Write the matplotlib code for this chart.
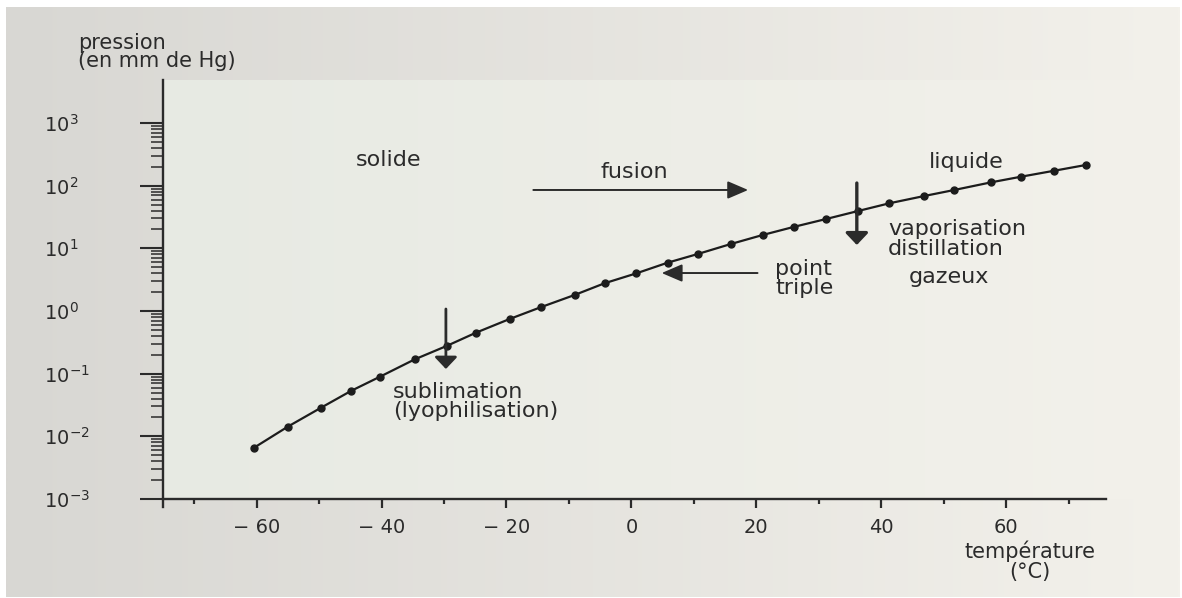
import numpy as np
import matplotlib
matplotlib.use('Agg')
import matplotlib.pyplot as plt
from matplotlib.ticker import FixedLocator, LogFormatterMathtext, NullFormatter

# courbe de sublimation / vaporisation : température (°C) et pression (mm Hg)
temperature = [-60.4, -55.0, -49.7, -44.9, -40.2, -34.7, -29.5, -24.9, -19.5,
               -14.5, -9.1, -4.3, 0.8, 5.8, 10.6, 15.9, 21.0, 26.1, 31.2,
               36.3, 41.3, 46.9, 51.7, 57.6, 62.4, 67.7, 72.8]
pression = [0.0066, 0.0143, 0.0286, 0.053, 0.090, 0.169, 0.279, 0.45, 0.745,
            1.15, 1.80, 2.77, 3.99, 5.9, 8.1, 11.7, 16.3, 22.1, 29.4,
            39.4, 52.3, 68.4, 85.3, 113, 139, 173, 214]

x_major = [-60, -40, -20, 0, 20, 40, 60]
x_minor = [-70, -50, -30, -10, 10, 30, 50, 70]
x_labels = ['\u2212 60', '\u2212 40', '\u2212 20', '0', '20', '40', '60']
decades = [-3, -2, -1, 0, 1, 2, 3]

ink = '#2b2b2b'
plt.rcParams['font.family'] = 'DejaVu Sans'

W, H = 1182, 598
fig = plt.figure(figsize=(W / 100, H / 100), dpi=100, facecolor='white')

# carton gris derrière le tout
card = [6, 1, 1174, 590]
ax_px = [163, 99, 943, 419]
bg = fig.add_axes([card[0] / W, card[1] / H, card[2] / W, card[3] / H], zorder=-2)
t = np.linspace(0, 1, 256)[:, None]
outer = np.array([216, 215, 211]) / 255 + t * (np.array([243, 241, 235]) - np.array([216, 215, 211])) / 255
inner = np.array([231, 234, 227]) / 255 + t * (np.array([243, 241, 235]) - np.array([231, 234, 227])) / 255
bg.imshow(outer[None, :, :], aspect='auto', extent=[0, 1, 0, 1], interpolation='bilinear')
px0 = (ax_px[0] - card[0]) / card[2]
py0 = (ax_px[1] - card[1]) / card[3]
py1 = (ax_px[1] + ax_px[3] - card[1]) / card[3]
bg.imshow(inner[None, :, :], aspect='auto', extent=[px0, 1, py0, py1], interpolation='bilinear')
bg.set_xlim(0, 1)
bg.set_ylim(0, 1)
bg.axis('off')

ax = fig.add_axes([ax_px[0] / W, ax_px[1] / H, ax_px[2] / W, ax_px[3] / H])
ax.set_facecolor('none')
ax.set_yscale('log')
ax.set_xlim(-75, 76)
ax.set_ylim(1e-3, 10 ** 3.686)

ax.plot(temperature, pression, '-o', color='#1c1c1c', lw=1.6, ms=5, zorder=3)

# axes
for side in ['top', 'right']:
    ax.spines[side].set_visible(False)
for side in ['left', 'bottom']:
    ax.spines[side].set_color(ink)
    ax.spines[side].set_linewidth(1.7)
ax.spines['left'].set_bounds(10 ** -3.13, 10 ** 3.686)

# graduations log : seulement de 1e-3 à 1e3
ax.yaxis.set_major_locator(FixedLocator([10.0 ** d for d in decades]))
ax.yaxis.set_minor_locator(FixedLocator([s * 10.0 ** d for d in decades[:-1] for s in range(2, 10)]))
ax.yaxis.set_major_formatter(LogFormatterMathtext())
ax.yaxis.set_minor_formatter(NullFormatter())
ax.tick_params(axis='y', which='major', length=16.5, width=1.5, pad=69,
               labelsize=14, color=ink, labelcolor=ink)
ax.tick_params(axis='y', which='minor', length=8.5, width=1.1, color=ink)
for lbl in ax.get_yticklabels():
    lbl.set_ha('left')

ax.set_xticks(x_major, x_labels)
ax.xaxis.set_minor_locator(FixedLocator(x_minor))
ax.tick_params(axis='x', which='major', length=6.5, width=1.6, pad=7,
               labelsize=14, color=ink, labelcolor=ink)
ax.tick_params(axis='x', which='minor', length=3.6, width=1.6, color=ink)

fig.text(78 / W, 1 - 33 / H, 'pression\n(en mm de Hg)', ha='left', va='top',
         fontsize=15, color=ink, linespacing=0.85)
fig.text(1030 / W, 1 - 561 / H, 'température\n(°C)', ha='center', va='center',
         fontsize=15, color=ink, linespacing=1.0)

# zones et transitions
tx = dict(fontsize=16, color=ink, va='center', linespacing=0.95)
ax.text(-38.9, 10 ** 2.409, 'solide', ha='center', **tx)
ax.text(0.4, 10 ** 2.218, 'fusion', ha='center', **tx)
ax.text(53.6, 10 ** 2.377, 'liquide', ha='center', **tx)
ax.text(50.9, 10 ** 0.537, 'gazeux', ha='center', **tx)
ax.text(41.1, 10 ** 1.149, 'vaporisation\ndistillation', ha='left', **tx)
ax.text(23.0, 10 ** 0.518, 'point\ntriple', ha='left', **tx)
ax.text(-38.2, 10 ** -1.444, 'sublimation\n(lyophilisation)', ha='left', **tx)

thin = dict(arrowstyle='-|>,head_length=0.7,head_width=0.3', color=ink, lw=1.4,
            mutation_scale=18, shrinkA=0, shrinkB=0)
thick = dict(arrowstyle='-|>,head_length=0.4,head_width=0.38', color=ink, lw=2.4,
             mutation_scale=18, shrinkA=0, shrinkB=0)
ax.annotate('', xy=(18.7, 10 ** 1.931), xytext=(-15.7, 10 ** 1.931), arrowprops=thin)
ax.annotate('', xy=(4.85, 10 ** 0.606), xytext=(20.2, 10 ** 0.606), arrowprops=thin)
ax.annotate('', xy=(36.1, 10 ** 1.053), xytext=(36.1, 10 ** 2.042), arrowprops=thick)
ax.annotate('', xy=(-29.7, 10 ** -0.926), xytext=(-29.7, 10 ** 0.032),
            arrowprops=dict(thick, lw=2.0))

fig.savefig('out.png', dpi=100)
